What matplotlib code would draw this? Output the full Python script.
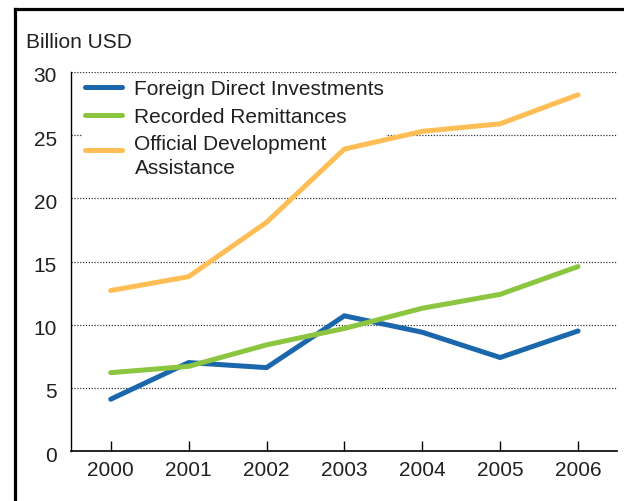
import matplotlib
matplotlib.use("Agg")
import matplotlib.pyplot as plt
import matplotlib.transforms as mtransforms
from matplotlib.lines import Line2D
from matplotlib.legend_handler import HandlerLine2D

plt.rcParams['font.family'] = ['Liberation Sans', 'DejaVu Sans']

# values (billion USD)
years = [2000, 2001, 2002, 2003, 2004, 2005, 2006]
fdi = [4.1, 7.0, 6.6, 10.7, 9.4, 7.4, 9.5]
remittances = [6.2, 6.7, 8.4, 9.7, 11.3, 12.4, 14.6]
oda = [12.7, 13.8, 18.1, 23.9, 25.3, 25.9, 28.2]
series_labels = ['Foreign Direct Investments', 'Recorded Remittances',
                 'Official Development\nAssistance']
series_colors = ['#1b67ad', '#8cc540', '#ffbe55']
yticks = [0, 5, 10, 15, 20, 25, 30]

text_color = '#231f20'


# legend handle that sits next to the first line of a two-line label
class ShiftedLine(HandlerLine2D):
    def __init__(self, dy, **kw):
        super().__init__(**kw)
        self.dy = dy

    def create_artists(self, legend, orig_handle, xdescent, ydescent, width, height,
                       fontsize, trans):
        return super().create_artists(legend, orig_handle, xdescent, ydescent - self.dy,
                                      width, height, fontsize, trans)


fig = plt.figure(figsize=(6.24, 5.01), dpi=100)
ax = fig.add_axes([71 / 624, 50 / 501, (617 - 71) / 624, (451 - 72) / 501])

# outer frame (only top and left edges are visible in the picture)
fig.add_artist(Line2D([15 / 624, 15 / 624], [0, 1 - 9 / 501], transform=fig.transFigure,
                      color='black', lw=2.3, solid_capstyle='projecting'))
fig.add_artist(Line2D([15 / 624, 1], [1 - 9 / 501, 1 - 9 / 501], transform=fig.transFigure,
                      color='black', lw=2.3, solid_capstyle='projecting'))

lines = []
for vals, lab, col in zip([fdi, remittances, oda], series_labels, series_colors):
    ln, = ax.plot(years, vals, color=col, lw=3.6, label=lab, solid_capstyle='round',
                  solid_joinstyle='miter', zorder=3)
    lines.append(ln)

ax.set_xlim(1999.49, 2006.5)
ax.set_ylim(0, 30)
ax.set_xticks(years)
ax.set_yticks(yticks)
ax.grid(axis='y', linestyle=(0, (1.0, 1.3)), color='#333333', lw=0.9)
ax.set_axisbelow(True)

for s in ['top', 'right']:
    ax.spines[s].set_visible(False)
ax.spines['left'].set_linewidth(1.0)
ax.spines['bottom'].set_linewidth(1.2)
ax.tick_params(axis='x', direction='in', length=7, width=1, pad=7.5,
               labelsize=15, labelcolor=text_color)
ax.tick_params(axis='y', length=0, pad=10, labelsize=15, labelcolor=text_color)
# y labels sit slightly below their grid lines in the original
shift = mtransforms.ScaledTranslation(0, -3 / 100, fig.dpi_scale_trans)
for lbl in ax.get_yticklabels():
    lbl.set_transform(lbl.get_transform() + shift)

fig.text(26 / 624, 1 - 42 / 501, 'Billion USD', fontsize=15, color=text_color,
         ha='left', va='center')

leg = ax.legend(loc='upper left', bbox_to_anchor=(0.022, 0.985), frameon=True,
                facecolor='white', edgecolor='none', framealpha=1, fancybox=False,
                fontsize=15, handlelength=1.75, handletextpad=0.62, labelspacing=0.42,
                borderpad=0.1, borderaxespad=0,
                handler_map={lines[2]: ShiftedLine(9.9)})
leg.set_zorder(2.5)
for t in leg.get_texts():
    t.set_color(text_color)
    t.set_linespacing(1.3)

fig.savefig('out.png', dpi=100)
